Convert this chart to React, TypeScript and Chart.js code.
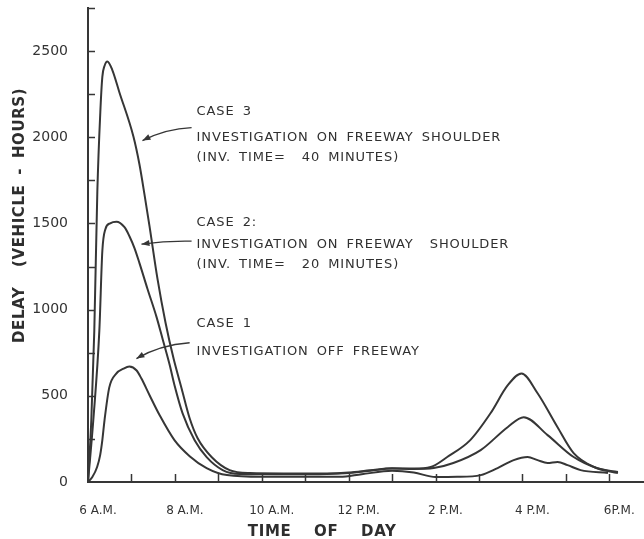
import React, { useEffect, useRef } from 'react';
import { Chart, registerables } from 'chart.js';

Chart.register(...registerables);

// Hours after 6 A.M.
const xTickLabels = ['6 A.M.', '', '8 A.M.', '', '10 A.M.', '', '12 P.M.', '', '2 P.M.', '', '4 P.M.', '', '6P.M.'];
const yTickStep = 250;
const yLabelStep = 500;
const yMax = 2750;
const xMax = 12.8;

const case3Hours = [0, 0.076, 0.145, 0.215, 0.284, 0.33, 0.38, 0.446, 0.56, 0.72, 1.047, 1.185, 1.3, 1.416, 1.6, 1.785, 1.97, 2.155, 2.34, 2.524, 2.85, 3.26, 3.73, 4.5, 5.5, 6.0, 6.5, 7.0, 7.5, 7.89, 8.27, 8.8, 9.27, 9.66, 9.98, 10.35, 10.81, 11.18, 11.65, 12.2];
const case3Delay = [0, 358, 878, 1686, 2148, 2350, 2414, 2440, 2390, 2263, 2003, 1842, 1669, 1484, 1178, 924, 716, 543, 370, 254, 144, 69, 52, 50, 50, 55, 68, 80, 78, 87, 145, 243, 400, 560, 630, 515, 318, 168, 87, 52];

const case2Hours = [0, 0.122, 0.261, 0.33, 0.4, 0.51, 0.655, 0.84, 0.954, 1.07, 1.185, 1.37, 1.577, 1.716, 1.878, 1.993, 2.178, 2.455, 2.732, 3.1, 3.49, 4.5, 5.5, 6.0, 6.5, 7.0, 7.5, 7.96, 8.41, 9.04, 9.66, 10.03, 10.58, 11.18, 11.71, 12.2];
const case2Delay = [0, 358, 878, 1340, 1467, 1501, 1510, 1478, 1426, 1357, 1270, 1120, 958, 831, 681, 560, 398, 242, 144, 69, 46, 45, 47, 52, 65, 78, 76, 81, 110, 185, 318, 376, 272, 145, 81, 58];

const case1Hours = [0, 0.1, 0.21, 0.28, 0.33, 0.38, 0.49, 0.65, 0.82, 0.95, 1.12, 1.23, 1.42, 1.65, 1.99, 2.34, 2.73, 3.2, 4.0, 5.0, 5.8, 6.3, 7.0, 7.5, 8.0, 8.5, 9.04, 9.43, 9.8, 10.12, 10.35, 10.58, 10.81, 11.04, 11.34, 11.97];
const case1Delay = [0, 29, 87, 156, 243, 358, 549, 629, 658, 670, 647, 600, 502, 387, 243, 150, 81, 40, 30, 30, 30, 45, 65, 55, 29, 30, 40, 81, 127, 145, 127, 110, 116, 98, 69, 52];

const case3Note = ['CASE 3', 'INVESTIGATION ON FREEWAY SHOULDER', '(INV. TIME=  40 MINUTES)'];
const case2Note = ['CASE 2:', 'INVESTIGATION ON FREEWAY  SHOULDER', '(INV. TIME=  20 MINUTES)'];
const case1Note = ['CASE 1', 'INVESTIGATION OFF FREEWAY'];
const yTitle = 'DELAY  (VEHICLE - HOURS)';
const xTitle = 'TIME OF DAY';

const INK = '#363636';
const FONT = '"DejaVu Sans", sans-serif';

// annotation anchors in data units (hours, vehicle-hours)
const noteHour = 2.5;
const case3NoteLevels = [2148, 1998, 1882];
const case2NoteLevels = [1507, 1380, 1264];
const case1NoteLevels = [918, 756];
// arrows: [startH, startV, ctrlH, ctrlV, tipH, tipV]
const arrows = [
  [2.385, 2056, 1.8, 2050, 1.254, 1981],
  [2.385, 1397, 1.8, 1400, 1.231, 1380],
  [2.34, 808, 1.65, 795, 1.115, 716],
];

const toPoints = (hs: number[], vs: number[]) => hs.map((h, i) => ({ x: h, y: vs[i] }));

const decorPlugin = {
  id: 'decor',
  beforeDraw(chart: any) {
    const { ctx, width, height } = chart;
    ctx.save();
    ctx.fillStyle = '#ffffff';
    ctx.fillRect(0, 0, width, height);
    ctx.restore();
  },
  afterDraw(chart: any) {
    const { ctx, chartArea, scales } = chart;
    const xs = scales.x;
    const ys = scales.y;
    ctx.save();
    ctx.strokeStyle = INK;
    ctx.fillStyle = INK;
    // inward tick marks
    ctx.lineWidth = 1.5;
    ys.ticks.forEach((t: any) => {
      if (t.value <= 0) return;
      const py = Math.round(ys.getPixelForValue(t.value)) + 0.5;
      ctx.beginPath();
      ctx.moveTo(chartArea.left, py);
      ctx.lineTo(chartArea.left + 7, py);
      ctx.stroke();
    });
    xs.ticks.forEach((t: any) => {
      if (t.value <= 0) return;
      const px = Math.round(xs.getPixelForValue(t.value)) + 0.5;
      ctx.beginPath();
      ctx.moveTo(px, chartArea.bottom);
      ctx.lineTo(px, chartArea.bottom - 8);
      ctx.stroke();
    });

    // notes
    const setText = (font: string, ls: number, ws: number) => {
      ctx.font = font;
      (ctx as any).letterSpacing = ls + 'px';
      (ctx as any).wordSpacing = ws + 'px';
    };
    ctx.fillStyle = '#303030';
    ctx.textBaseline = 'middle';
    ctx.textAlign = 'left';
    setText('13px ' + FONT, 0.9, 3);
    const nx = xs.getPixelForValue(noteHour);
    const drawNote = (lines: string[], levels: number[]) => {
      lines.forEach((s, i) => ctx.fillText(s, nx, ys.getPixelForValue(levels[i])));
    };
    drawNote(case3Note, case3NoteLevels);
    drawNote(case2Note, case2NoteLevels);
    drawNote(case1Note, case1NoteLevels);

    // arrows
    ctx.lineWidth = 1.3;
    ctx.strokeStyle = INK;
    ctx.fillStyle = INK;
    arrows.forEach(a => {
      const sx = xs.getPixelForValue(a[0]), sy = ys.getPixelForValue(a[1]);
      const cx = xs.getPixelForValue(a[2]), cy = ys.getPixelForValue(a[3]);
      const tx = xs.getPixelForValue(a[4]), ty = ys.getPixelForValue(a[5]);
      ctx.beginPath();
      ctx.moveTo(sx, sy);
      ctx.quadraticCurveTo(cx, cy, tx, ty);
      ctx.stroke();
      const ang = Math.atan2(ty - cy, tx - cx);
      const L = 8, W = 3;
      ctx.beginPath();
      ctx.moveTo(tx, ty);
      ctx.lineTo(tx - L * Math.cos(ang) + W * Math.sin(ang), ty - L * Math.sin(ang) - W * Math.cos(ang));
      ctx.lineTo(tx - L * Math.cos(ang) - W * Math.sin(ang), ty - L * Math.sin(ang) + W * Math.cos(ang));
      ctx.closePath();
      ctx.fill();
    });

    // axis titles
    ctx.fillStyle = '#2e2e2e';
    setText('bold 15px ' + FONT, 0.6, 4);
    ctx.textAlign = 'center';
    ctx.save();
    ctx.translate(chartArea.left - 68, ys.getPixelForValue(1547));
    ctx.rotate(-Math.PI / 2);
    ctx.fillText(yTitle, 0, 0);
    ctx.restore();
    setText('bold 15px ' + FONT, 0.6, 17);
    ctx.fillText(xTitle, xs.getPixelForValue(5.39), chartArea.bottom + 50);
    setText('13px ' + FONT, 0, 0);
    ctx.restore();
  },
};

export default function App() {
  const ref = useRef<HTMLCanvasElement>(null);
  useEffect(() => {
    const canvas = ref.current;
    if (!canvas) return;
    const lineStyle = {
      borderColor: INK,
      borderWidth: 2,
      pointRadius: 0,
      fill: false,
      cubicInterpolationMode: 'monotone' as const,
    };
    const chart = new Chart(canvas, {
      type: 'line',
      data: {
        datasets: [
          { label: 'Case 3', data: toPoints(case3Hours, case3Delay), ...lineStyle },
          { label: 'Case 2', data: toPoints(case2Hours, case2Delay), ...lineStyle },
          { label: 'Case 1', data: toPoints(case1Hours, case1Delay), ...lineStyle },
        ],
      },
      options: {
        responsive: false,
        animation: false,
        layout: { padding: { top: 8, right: 0, left: 0, bottom: 0 } },
        plugins: { legend: { display: false }, tooltip: { enabled: false }, title: { display: false } },
        scales: {
          x: {
            type: 'linear',
            min: 0,
            max: xMax,
            grid: { display: false, drawTicks: false },
            border: { display: true, color: INK, width: 2 },
            afterFit: (s: any) => { s.height = 57; s.paddingLeft = 0; s.paddingRight = 0; },
            ticks: {
              stepSize: 1,
              includeBounds: false,
              autoSkip: false,
              maxRotation: 0,
              padding: 22,
              labelOffset: 10,
              color: '#333',
              font: { family: FONT, size: 12 },
              callback: (v: any) => {
                const i = Math.round(Number(v));
                return xTickLabels[i] ?? '';
              },
            },
          },
          y: {
            type: 'linear',
            min: 0,
            max: yMax,
            grid: { display: false, drawTicks: false },
            border: { display: true, color: INK, width: 2 },
            afterFit: (s: any) => { s.width = 88; s.paddingTop = 0; s.paddingBottom = 0; },
            ticks: {
              stepSize: yTickStep,
              autoSkip: false,
              padding: 20,
              color: '#333',
              font: { family: FONT, size: 14 },
              callback: (v: any) => (Number(v) % yLabelStep === 0 ? String(v) : ''),
            },
          },
        },
      },
      plugins: [decorPlugin],
    });
    return () => chart.destroy();
  }, []);
  return (
    <div style={{ position: 'absolute', left: 0, top: 0, width: 644, height: 539, background: '#fff' }}>
      <canvas ref={ref} width={644} height={539} style={{ display: 'block', width: 644, height: 539 }} />
    </div>
  );
}
